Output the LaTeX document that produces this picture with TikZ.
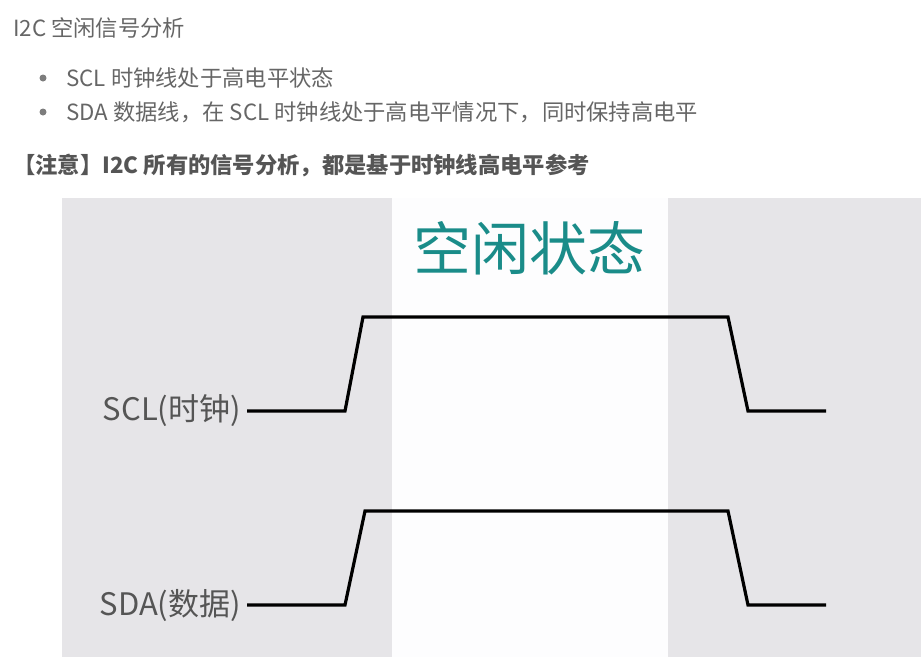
\documentclass[tikz,border=0pt]{standalone}
\usepackage{fontspec}
\setmainfont{Noto Sans CJK SC}
\usepackage{xcolor}
\definecolor{ictxt}{HTML}{666666}
\definecolor{icnote}{HTML}{555555}
\definecolor{icband}{HTML}{E6E5E8}
\definecolor{icidle}{HTML}{FDFDFE}
\definecolor{icteal}{HTML}{1A8C89}
\usepackage{tikz}
\usetikzlibrary{positioning}

\begin{document}
\begin{tikzpicture}[x=1pt,y=-1pt,
  txt/.style={anchor=west,inner sep=0pt,text=ictxt,font=\fontsize{22.3}{26}\selectfont},
  note/.style={anchor=west,inner sep=0pt,text=icnote,font=\fontsize{22.3}{26}\selectfont\bfseries},
  bul/.style={circle,fill=ictxt!85,inner sep=0pt,minimum size=7pt},
  sig/.style={anchor=east,inner sep=0pt,text=icnote,font=\fontsize{31}{35}\selectfont},
  wave/.style={line width=3.2pt,line join=miter,black}]
  \useasboundingbox (0,0) rectangle (921,659);
  % heading and notes
  \node[txt] (head) at (13,28) {I2C 空闲信号分析};
  \node[bul] (b1) at (43,78) {};
  \node[txt,right=19.5pt of b1] (t1) {SCL 时钟线处于高电平状态};
  \node[bul] (b2) at (43,112) {};
  \node[txt,right=19.5pt of b2] (t2) {SDA 数据线，在 SCL 时钟线处于高电平情况下，同时保持高电平};
  \node[note] (warn) at (13,166) {【注意】I2C 所有的信号分析，都是基于时钟线高电平参考};
  % background bands
  \fill[icband] (62,198) rectangle (921,657);
  \fill[icidle] (392,198) rectangle (668,657);
  \node[text=icteal,font=\fontsize{58}{62}\selectfont,inner sep=0pt] (title) at (529,248) {空闲状态};
  % signal labels
  \node[sig] (scl) at (241,411) {SCL(时钟)};
  \node[sig] (sda) at (241,605) {SDA(数据)};
  % waveforms
  \draw[wave] ([xshift=6pt]scl.east) -- (345,411) -- (363,317) -- (728,317)
    -- (748,411) -- (826,411);
  \draw[wave] ([xshift=6pt]sda.east) -- (345,605) -- (365,511) -- (728,511)
    -- (748,605) -- (826,605);
\end{tikzpicture}
\end{document}
